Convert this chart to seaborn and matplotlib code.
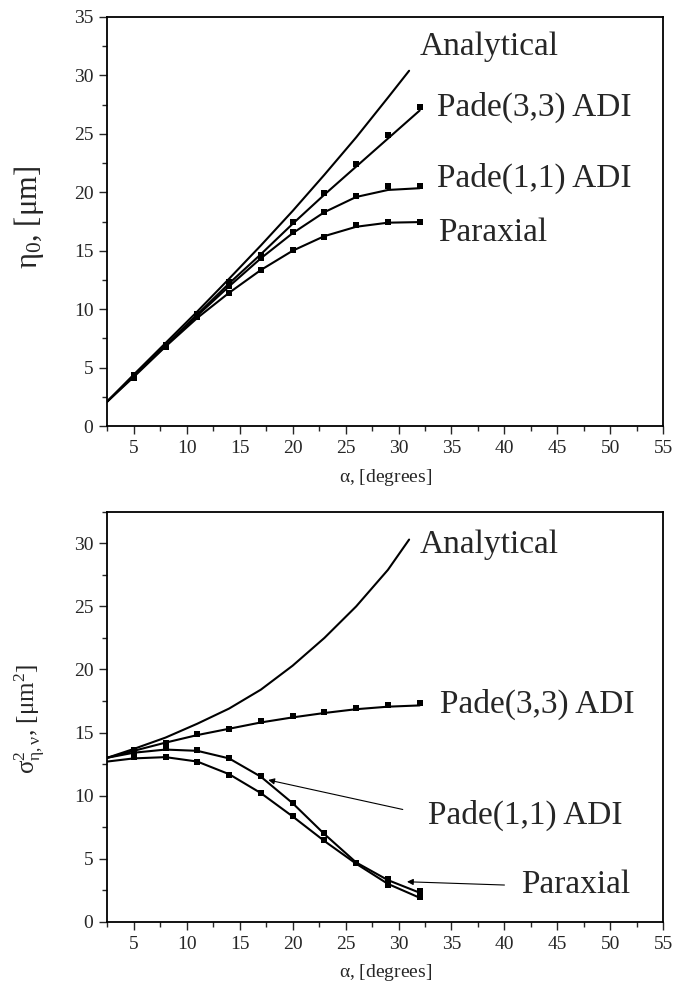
import matplotlib
matplotlib.use("Agg")
import pandas as pd
import matplotlib.pyplot as plt
from matplotlib.ticker import MultipleLocator
import seaborn as sns

# x positions (degrees)
ALPHA_PTS = [5, 8, 11, 14, 17, 20, 23, 26, 29, 32]
ALPHA_FIT = [2.5, 5, 8, 11, 14, 17, 20, 23, 26, 29, 32]
ALPHA_EXACT = [2.5, 5, 8, 11, 14, 17, 20, 23, 26, 29, 31]

# top panel: eta_0 [um]
ETA_EXACT = [2.1, 4.4, 7.1, 9.8, 12.6, 15.45, 18.4, 21.5, 24.7, 28.1, 30.4]
ETA_P33_FIT = [2.1, 4.35, 6.9, 9.55, 12.2, 14.7, 17.3, 19.8, 22.2, 24.6, 27.0]
ETA_P11_FIT = [2.1, 4.3, 6.85, 9.45, 11.95, 14.35, 16.5, 18.3, 19.6, 20.2, 20.35]
ETA_PAR_FIT = [2.1, 4.2, 6.8, 9.25, 11.4, 13.35, 15.0, 16.25, 17.05, 17.4, 17.45]
ETA_P33_PTS = [4.4, 6.9, 9.6, 12.3, 14.6, 17.5, 19.9, 22.4, 24.9, 27.3]
ETA_P11_PTS = [4.3, 6.85, 9.5, 12.0, 14.4, 16.6, 18.3, 19.7, 20.5, 20.5]
ETA_PAR_PTS = [4.1, 6.8, 9.3, 11.4, 13.35, 15.05, 16.2, 17.2, 17.45, 17.45]

# bottom panel: sigma^2 [um^2]
SIG_EXACT = [13.0, 13.7, 14.6, 15.7, 16.9, 18.4, 20.3, 22.5, 25.0, 27.9, 30.3]
SIG_P33_FIT = [13.0, 13.55, 14.2, 14.8, 15.3, 15.8, 16.2, 16.55, 16.85, 17.05, 17.15]
SIG_P11_FIT = [13.0, 13.4, 13.65, 13.55, 12.95, 11.5, 9.4, 6.95, 4.7, 3.3, 2.3]
SIG_PAR_FIT = [12.7, 12.95, 13.05, 12.7, 11.7, 10.2, 8.35, 6.4, 4.6, 3.0, 1.9]
SIG_P33_PTS = [13.6, 14.2, 14.85, 15.3, 15.9, 16.3, 16.65, 16.95, 17.15, 17.35]
SIG_P11_PTS = [13.3, 13.75, 13.6, 12.95, 11.55, 9.45, 7.0, 4.65, 3.35, 2.45]
SIG_PAR_PTS = [13.05, 13.05, 12.65, 11.65, 10.2, 8.35, 6.45, 4.65, 2.9, 2.0]

LABELS = ["Analytical", "Pade(3,3) ADI", "Pade(1,1) ADI", "Paraxial"]


def long_frame(xs_list, ys_list, names):
    rows = []
    for xs, ys, name in zip(xs_list, ys_list, names):
        for x, y in zip(xs, ys):
            rows.append({"alpha": x, "value": y, "series": name})
    return pd.DataFrame(rows)


def style_axis(ax, ymax):
    ax.set_xlim(2.5, 55)
    ax.set_ylim(0, ymax)
    ax.xaxis.set_major_locator(MultipleLocator(5))
    ax.xaxis.set_minor_locator(MultipleLocator(2.5))
    ax.yaxis.set_major_locator(MultipleLocator(5))
    ax.yaxis.set_minor_locator(MultipleLocator(2.5))
    ax.tick_params(which="both", direction="out", top=False, right=False,
                   width=1.0, labelsize=14, pad=4)
    ax.tick_params(which="major", length=6)
    ax.tick_params(which="minor", length=3.5)
    for sp in ax.spines.values():
        sp.set_visible(True)
        sp.set_linewidth(1.3)
        sp.set_color("black")
    ax.set_xlabel(r"$\mathrm{\alpha}$, [degrees]", fontsize=14, labelpad=7)


def draw_panel(ax, exact, fits, pts):
    lines = long_frame([ALPHA_EXACT, ALPHA_FIT, ALPHA_FIT, ALPHA_FIT],
                       [exact] + fits, LABELS)
    sns.lineplot(data=lines, x="alpha", y="value", units="series",
                 estimator=None, sort=False, color="black", linewidth=1.5,
                 ax=ax, legend=False)
    marks = long_frame([ALPHA_PTS] * 3, pts, LABELS[1:])
    sns.scatterplot(data=marks, x="alpha", y="value", marker="s", s=16,
                    color="black", linewidth=0, ax=ax, legend=False, zorder=3)


sns.set_style("ticks")
plt.rcParams["font.family"] = ["Liberation Serif", "DejaVu Serif"]
plt.rcParams["mathtext.fontset"] = "custom"
plt.rcParams["mathtext.rm"] = "Liberation Serif"
plt.rcParams["mathtext.it"] = "Liberation Serif:italic"

fig = plt.figure(figsize=(6.89, 9.94), dpi=100)
ax1 = fig.add_axes([0.1557, 0.5714, 0.807, 0.4115])
ax2 = fig.add_axes([0.1557, 0.0727, 0.807, 0.4124])

draw_panel(ax1, ETA_EXACT, [ETA_P33_FIT, ETA_P11_FIT, ETA_PAR_FIT],
           [ETA_P33_PTS, ETA_P11_PTS, ETA_PAR_PTS])
style_axis(ax1, 35)
ax1.set_ylabel(r"$\mathrm{\eta_0}$, [$\mathrm{\mu}$m]", fontsize=22)
ax1.yaxis.set_label_coords(-0.11, 0.511)

txt = dict(fontsize=24, ha="left", va="center")
ax1.text(32.0, 32.46, "Analytical", **txt)
ax1.text(33.6, 27.27, "Pade(3,3) ADI", **txt)
ax1.text(33.6, 21.2, "Pade(1,1) ADI", **txt)
ax1.text(33.7, 16.5, "Paraxial", **txt)

draw_panel(ax2, SIG_EXACT, [SIG_P33_FIT, SIG_P11_FIT, SIG_PAR_FIT],
           [SIG_P33_PTS, SIG_P11_PTS, SIG_PAR_PTS])
style_axis(ax2, 32.5)
ax2.set_ylabel(r"$\mathrm{\sigma^2_{\eta,\nu}}$, [$\mathrm{\mu}$m$^2$]", fontsize=18)
ax2.yaxis.set_label_coords(-0.108, 0.494)

ax2.text(32.0, 29.9, "Analytical", **txt)
ax2.text(33.9, 17.2, "Pade(3,3) ADI", **txt)
ax2.text(32.8, 8.47, "Pade(1,1) ADI", **txt)
ax2.text(41.6, 2.91, "Paraxial", **txt)

arrow = dict(arrowstyle="-|>", color="black", lw=0.8, mutation_scale=9,
             shrinkA=0, shrinkB=0)
ax2.annotate("", xy=(17.7, 11.24), xytext=(30.4, 8.9), arrowprops=arrow)
ax2.annotate("", xy=(30.8, 3.17), xytext=(40.0, 2.91), arrowprops=arrow)

fig.savefig("out.png", dpi=100)
